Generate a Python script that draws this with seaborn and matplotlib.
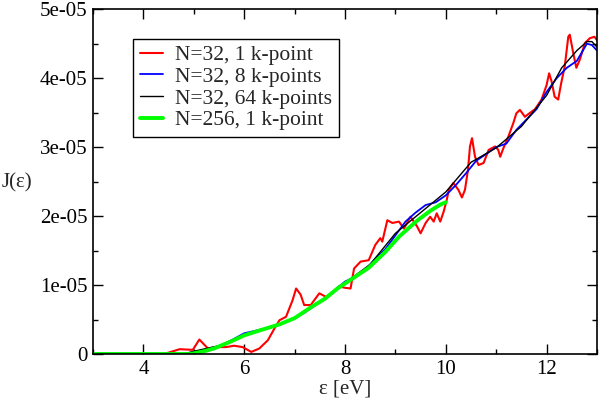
import numpy as np
import matplotlib
matplotlib.use("Agg")
import matplotlib.pyplot as plt
import matplotlib.ticker as mticker
import seaborn as sns

# N=32, 1 k-point (red)
red_x = [4.4, 4.5, 4.72, 4.98, 5.11, 5.28, 5.45, 5.64, 5.8, 5.97, 6.14, 6.3, 6.47, 6.6,
         6.7, 6.83, 6.96, 7.03, 7.12, 7.19, 7.32, 7.49, 7.62, 7.75, 7.88, 8.0, 8.11, 8.18,
         8.31, 8.47, 8.6, 8.7, 8.74, 8.84, 8.94, 9.07, 9.17, 9.3, 9.43, 9.5, 9.6, 9.69,
         9.76, 9.82, 9.89, 9.96, 10.02, 10.06, 10.15, 10.25, 10.32, 10.38, 10.44, 10.48,
         10.52, 10.58, 10.65, 10.75, 10.85, 10.98, 11.04, 11.08, 11.14, 11.24, 11.34, 11.4,
         11.47, 11.57, 11.64, 11.77, 11.9, 12.0, 12.05, 12.1, 12.16, 12.23, 12.29, 12.36,
         12.43, 12.46, 12.53, 12.59, 12.66, 12.76, 12.86, 12.95, 13.0]
red_y = [0.0, 0.02, 0.07, 0.06, 0.21, 0.08, 0.1, 0.1, 0.12, 0.1, 0.03, 0.08, 0.2, 0.37,
         0.49, 0.54, 0.78, 0.95, 0.86, 0.71, 0.71, 0.88, 0.83, 0.88, 0.98, 0.96, 0.95, 1.24,
         1.34, 1.36, 1.58, 1.68, 1.63, 1.94, 1.9, 1.92, 1.82, 1.99, 1.85, 1.75, 1.9, 1.99,
         1.92, 2.04, 1.92, 2.07, 2.24, 2.38, 2.48, 2.38, 2.27, 2.38, 2.67, 3.01,
         3.13, 2.86, 2.74, 2.77, 2.96, 3.01, 2.96, 2.86, 2.98, 3.15, 3.35, 3.49,
         3.54, 3.44, 3.48, 3.55, 3.69, 3.9, 4.07, 3.95, 3.73, 3.69, 3.93, 4.17,
         4.6, 4.63, 4.36, 4.15, 4.27, 4.51, 4.58, 4.6, 4.55]

# N=32, 8 k-points (blue)
blue_x = [3.0, 4.8, 5.0, 5.3, 5.6, 6.0, 6.3, 6.6, 6.9, 7.2, 7.5, 7.8, 8.0, 8.2, 8.4, 8.6,
          8.8, 9.0, 9.2, 9.4, 9.6, 9.8, 10.0, 10.2, 10.4, 10.6, 10.8, 11.0, 11.2, 11.4,
          11.6, 11.8, 12.0, 12.2, 12.4, 12.6, 12.8, 12.9, 13.0]
blue_y = [0.0, 0.0, 0.03, 0.07, 0.14, 0.3, 0.35, 0.4, 0.48, 0.6, 0.75, 0.93, 1.05, 1.12,
          1.22, 1.38, 1.52, 1.72, 1.92, 2.05, 2.16, 2.2, 2.3, 2.45, 2.62, 2.8, 2.9, 3.0,
          3.05, 3.25, 3.4, 3.55, 3.8, 4.0, 4.15, 4.25, 4.5, 4.48, 4.4]

# N=32, 64 k-points (black)
black_x = [3.0, 4.8, 5.0, 5.5, 6.0, 6.5, 7.0, 7.5, 8.0, 8.5, 9.0, 9.5, 10.0, 10.5, 11.0,
           11.5, 12.0, 12.3, 12.6, 12.8, 12.9, 13.0]
black_y = [0.0, 0.0, 0.04, 0.12, 0.28, 0.38, 0.52, 0.76, 1.03, 1.3, 1.75, 2.05, 2.35, 2.78,
           2.99, 3.3, 3.75, 4.15, 4.4, 4.53, 4.53, 4.45]

# N=256, 1 k-point (green)
green_x = [3.0, 4.9, 5.0, 5.2, 5.4, 5.7, 6.0, 6.3, 6.7, 7.0, 7.35, 7.6, 7.85, 8.1, 8.47,
           8.8, 9.07, 9.3, 9.46, 9.7, 9.9, 10.0]
green_y = [0.0, 0.0, 0.01, 0.04, 0.08, 0.17, 0.27, 0.34, 0.43, 0.52, 0.69, 0.8, 0.95, 1.07,
           1.25, 1.48, 1.7, 1.85, 1.95, 2.08, 2.17, 2.2]

scale = 1e-5

sns.set_theme(style="ticks")
plt.rcParams["font.family"] = ["Liberation Serif", "DejaVu Serif"]
plt.rcParams["font.size"] = 15

fig = plt.figure(figsize=(6, 4), dpi=100)
ax = fig.add_axes([0.155, 0.115, 0.84, 0.862])

series = [
    (red_x, red_y, "#ff0000", 1.5, "N=32, 1 k-point"),
    (blue_x, blue_y, "#0000ff", 1.3, "N=32, 8 k-points"),
    (black_x, black_y, "#000000", 1.0, "N=32, 64 k-points"),
    (green_x, green_y, "#00ff00", 2.8, "N=256, 1 k-point"),
]
for xs, ys, col, lw, lab in series:
    sns.lineplot(x=np.array(xs), y=np.array(ys) * scale, ax=ax, color=col, lw=lw,
                 label=lab, sort=False, estimator=None)

ax.set_xlim(3, 13)
ax.set_ylim(0, 5e-5)
ax.xaxis.set_major_locator(mticker.MultipleLocator(2))
ax.xaxis.set_minor_locator(mticker.MultipleLocator(1))
ax.yaxis.set_major_locator(mticker.MultipleLocator(1e-5))
ax.yaxis.set_minor_locator(mticker.MultipleLocator(5e-6))
ax.yaxis.set_major_formatter(mticker.FuncFormatter(lambda v, p: "0" if abs(v) < 1e-12 else "%.0e" % v))
ax.tick_params(which="both", direction="in", top=True, right=True, labelsize=15, colors="black")
ax.tick_params(which="major", length=7, width=1, pad=4)
ax.tick_params(which="minor", length=3.5, width=1)
for s in ax.spines.values():
    s.set_color("black")
    s.set_linewidth(1.2)

ax.set_xlabel("ε [eV]", fontsize=15, labelpad=1)
ax.set_ylabel("J(ε)", fontsize=15, rotation=0, ha="left", va="center")
ax.yaxis.set_label_coords(-0.182, 0.496)

leg = ax.legend(loc="upper left", bbox_to_anchor=(0.08, 0.915), fontsize=15.5, frameon=True,
                fancybox=False, handlelength=1.1, handletextpad=0.55, labelspacing=0.08,
                borderpad=0.3, borderaxespad=0)
leg.get_frame().set_edgecolor("black")
leg.get_frame().set_linewidth(1.0)
leg.get_frame().set_alpha(1)

fig.savefig("out.png", dpi=100)
